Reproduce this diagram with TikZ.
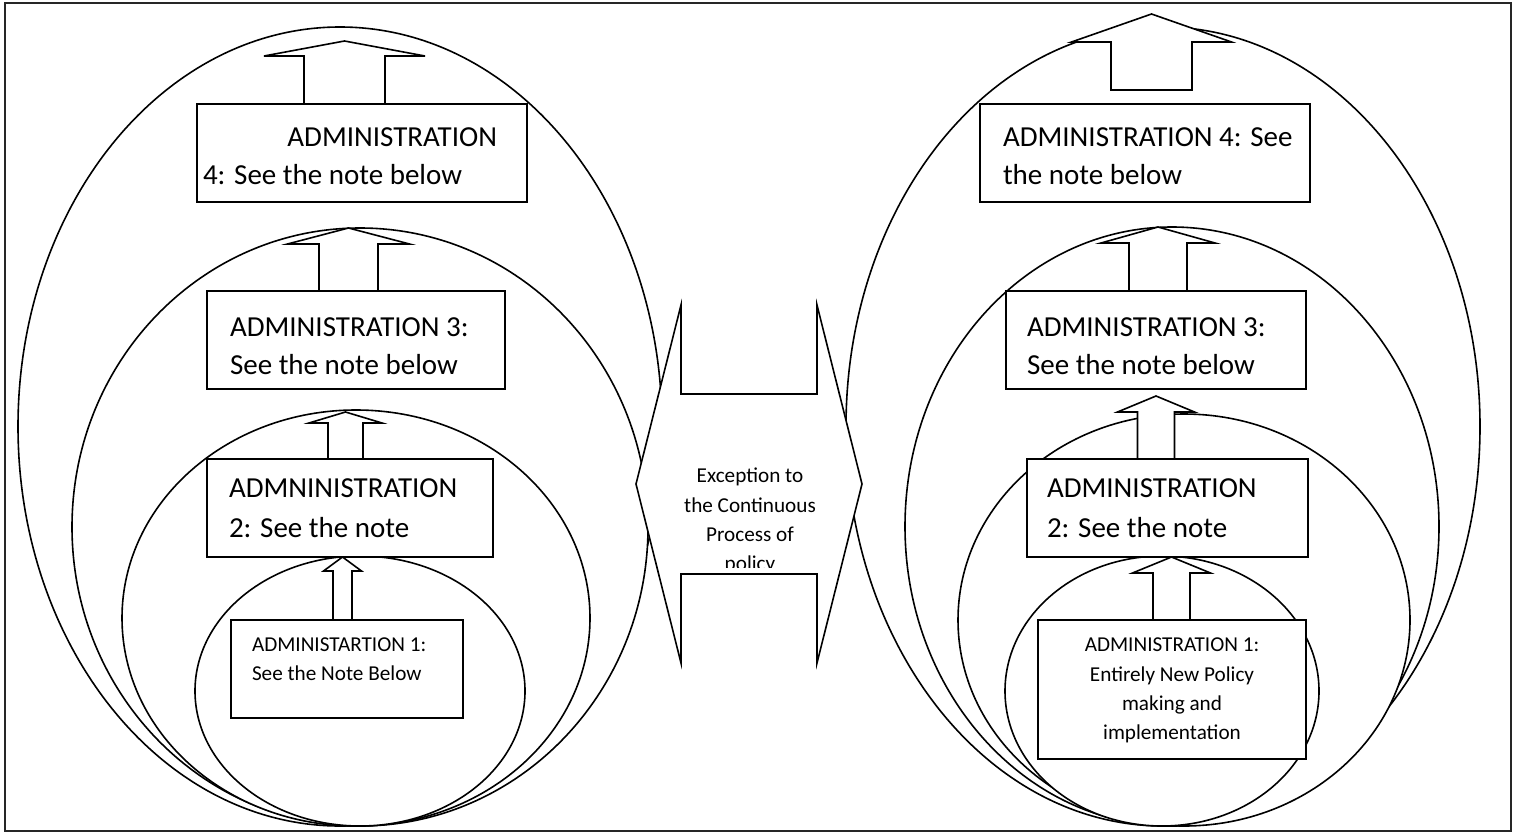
\documentclass[tikz,border=0pt]{standalone}
\usepackage{fontspec}
\setmainfont{Carlito}
\tikzset{
  shp/.style={draw=black, line width=0.8pt, fill=white, line join=miter},
  frame/.style={draw=black!85, line width=1.2pt},
  big/.style={font=\fontsize{14.5}{19.5}\selectfont, inner sep=0pt, outer sep=0pt},
  sml/.style={font=\fontsize{10.6}{14.75}\selectfont, inner sep=0pt, outer sep=0pt},
}
% name, cx, tip y, shoulder y, wing half-width, shaft half-width, bottom y
\newcommand\upblock[7]{%
  \draw[shp] (#2,#3) -- (#2+#5,#4) -- (#2+#6,#4) -- (#2+#6,#7) -- (#2-#6,#7)
    -- (#2-#6,#4) -- (#2-#5,#4) -- cycle;
  \coordinate (#1) at (#2,#3);}
\begin{document}
\begin{tikzpicture}[x=0.5pt,y=-0.5pt]
\useasboundingbox (0,0) rectangle (1515,835);
\draw[frame] (5,3) rectangle (1511,831);

% left nested ellipses
\draw[shp] (340,426.5) ellipse [x radius=322, y radius=399.5];
\draw[shp] (360,527) ellipse [x radius=288, y radius=299];
\draw[shp] (356,618) ellipse [x radius=234, y radius=208];
\draw[shp] (360,691) ellipse [x radius=165, y radius=135];
% right nested ellipses
\draw[shp] (1163,426.5) ellipse [x radius=317, y radius=399.5];
\draw[shp] (1172,526.5) ellipse [x radius=267, y radius=299.5];
\draw[shp] (1184,620) ellipse [x radius=226, y radius=206];
\draw[shp] (1162,691) ellipse [x radius=157, y radius=135];

% left boxes and arrows
\upblock{la4}{344.5}{41}{56}{80.5}{40.5}{104}
\draw[shp] (197,104) rectangle (527,202);
\upblock{la3}{348.5}{228}{244}{61}{29.5}{291}
\draw[shp] (207,291) rectangle (505,389);
\upblock{la2}{345.5}{412}{423}{36.5}{17.5}{459}
\draw[shp] (207,459) rectangle (493,557);
\upblock{la1}{342.5}{557}{571}{19}{9.5}{620}
\draw[shp] (231,620) rectangle (463,718);

% right boxes and arrows
\upblock{ra4}{1151.5}{14}{42}{80}{40.5}{90}
\draw[shp] (980,104) rectangle (1310,202);
\upblock{ra3}{1158}{227}{243}{57}{29}{291}
\draw[shp] (1006,291) rectangle (1306,389);
\upblock{ra2}{1156}{396}{412}{38.5}{18.5}{459}
\draw[shp] (1027,459) rectangle (1308,557);
\upblock{ra1}{1171.5}{557}{573}{39}{18.5}{620}
\draw[shp] (1038,620) rectangle (1306,759);

% centre double arrow
\draw[shp] (636,484) -- (681,305) -- (681,394) -- (817,394) -- (817,305)
  -- (862,484) -- (817,663) -- (817,574) -- (681,574) -- (681,663) -- cycle;

% texts, left
\node[big, anchor=base east] (l4a) at (497,146) {ADMINISTRATION};
\node[big, anchor=base west] (l4b) at (203,184) {4: See the note below};
\node[big, anchor=base west] (l3a) at (230,336) {ADMINISTRATION 3:};
\node[big, anchor=base west] (l3b) at (230,374) {See the note below};
\node[big, anchor=base west] (l2a) at (229,497) {ADMNINISTRATION};
\node[big, anchor=base west] (l2b) at (229,537) {2: See the note};
\node[sml, anchor=base west] (l1a) at (252,651) {ADMINISTARTION 1:};
\node[sml, anchor=base west] (l1b) at (252,680) {See the Note Below};

% texts, right
\node[big, anchor=base west] (r4a) at (1003,146) {ADMINISTRATION 4: See};
\node[big, anchor=base west] (r4b) at (1003,184) {the note below};
\node[big, anchor=base west] (r3a) at (1027,336) {ADMINISTRATION 3:};
\node[big, anchor=base west] (r3b) at (1027,374) {See the note below};
\node[big, anchor=base west] (r2a) at (1047,497) {ADMINISTRATION};
\node[big, anchor=base west] (r2b) at (1047,537) {2: See the note};
\node[sml, anchor=base] (r1a) at (1172,651) {ADMINISTRATION 1:};
\node[sml, anchor=base] (r1b) at (1172,681) {Entirely New Policy};
\node[sml, anchor=base] (r1c) at (1172,710) {making and};
\node[sml, anchor=base] (r1d) at (1172,739) {implementation};

% centre text, clipped
\begin{scope}
\clip (681,394) rectangle (817,567);
\node[sml, anchor=base] (c1) at (750,482) {Exception to};
\node[sml, anchor=base] (c2) at (750,512) {the Continuous};
\node[sml, anchor=base] (c3) at (750,541) {Process of};
\node[sml, anchor=base] (c4) at (750,570) {policy};
\end{scope}
\end{tikzpicture}
\end{document}
